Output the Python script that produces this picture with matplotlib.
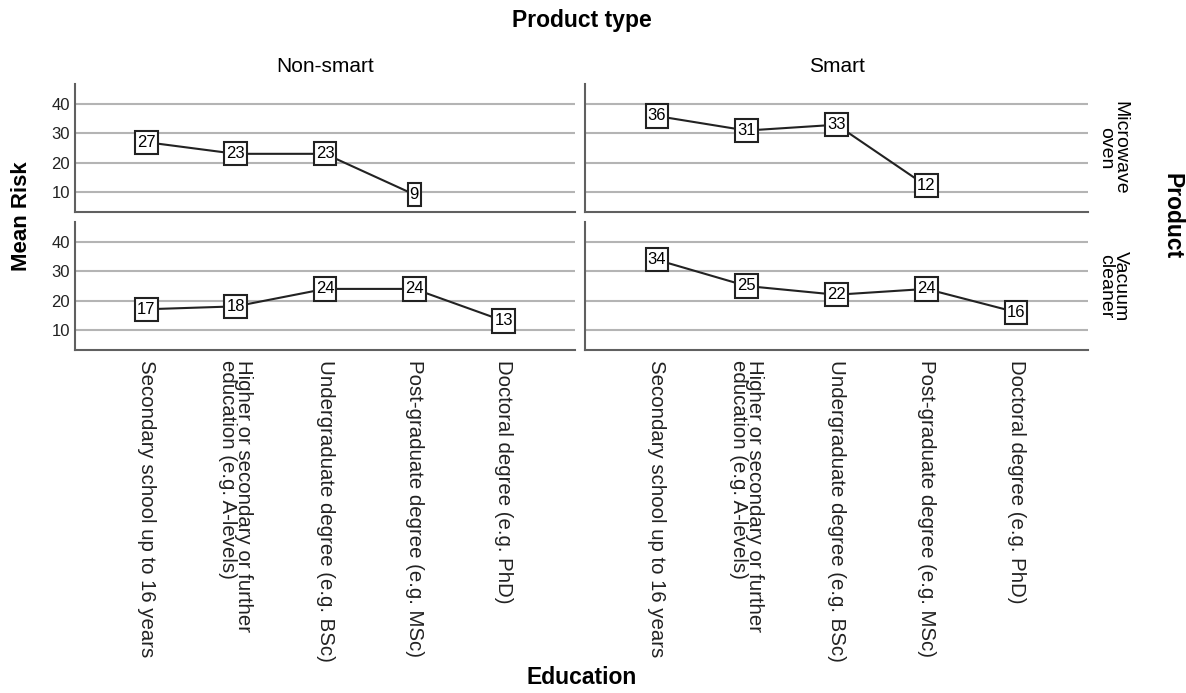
import numpy as np
import matplotlib.pyplot as plt
from matplotlib.path import Path

plt.rcParams['font.family'] = ['Liberation Sans', 'DejaVu Sans']

education = ['Secondary school up to 16 years',
             'Higher or secondary or further\neducation (e.g. A-levels)',
             'Undergraduate degree (e.g. BSc)',
             'Post-graduate degree (e.g. MSc)',
             'Doctoral degree (e.g. PhD)']
product_types = ['Non-smart', 'Smart']
products = ['Microwave\noven', 'Vacuum\ncleaner']

microwave_nonsmart = [27, 23, 23, 9, np.nan]
microwave_smart = [36, 31, 33, 12, np.nan]
vacuum_nonsmart = [17, 18, 24, 24, 13]
vacuum_smart = [34, 25, 22, 24, 16]

values = [[microwave_nonsmart, microwave_smart],
          [vacuum_nonsmart, vacuum_smart]]


def tall_box(x0, y0, width, height, mutation_size):
    # label box: little side padding, more top/bottom
    px = 0.12 * mutation_size
    py = 0.25 * mutation_size
    x0, x1 = x0 - px, x0 + width + px
    y0, y1 = y0 - py, y0 + height + py
    return Path([(x0, y0), (x1, y0), (x1, y1), (x0, y1), (x0, y0)],
                closed=True)


W, H = 1186, 693
fig = plt.figure(figsize=(W / 100, H / 100), dpi=100)

col_px = [(75, 500), (585, 503)]
row_px = [(84, 128), (222, 128)]

grid_c = '#b4b4b4'
spine_c = '#606060'

for r in range(2):
    for c in range(2):
        x0, w = col_px[c]
        y0, h = row_px[r]
        ax = fig.add_axes([x0 / W, 1 - (y0 + h) / H, w / W, h / H])
        vals = np.array(values[r][c], dtype=float)
        xs = np.arange(len(education))
        ax.plot(xs, vals, color='#222222', lw=1.5, zorder=2)
        for xi, v in zip(xs, vals):
            if np.isnan(v):
                continue
            ax.text(xi, v, '%d' % v, ha='center', va='center', fontsize=12,
                    zorder=3,
                    bbox=dict(boxstyle=tall_box, fc='white',
                              ec='#222222', lw=1.5))
        ax.set_xlim(-0.8, 4.8)
        ax.set_ylim(3, 47)
        ax.set_yticks([10, 20, 30, 40])
        for yv in [10, 20, 30, 40]:
            ax.axhline(yv, color=grid_c, lw=1.5, zorder=1)
        for s in ['top', 'right']:
            ax.spines[s].set_visible(False)
        for s in ['left', 'bottom']:
            ax.spines[s].set_color(spine_c)
            ax.spines[s].set_linewidth(1.5)
        ax.tick_params(length=0, labelsize=12, colors='#222222')
        if c == 1:
            ax.set_yticklabels([])
        ax.set_xticks(xs)
        if r == 1:
            ax.set_xticklabels(education, rotation=270, ha='center', va='top',
                               fontsize=14.7, linespacing=0.8,
                               multialignment='left')
            ax.tick_params(axis='x', pad=7)
        else:
            ax.set_xticklabels([])
        if r == 0:
            ax.set_title(product_types[c], fontsize=15, pad=9)
        if c == 1:
            ax.text(1.05, 0.5, products[r], transform=ax.transAxes,
                    rotation=270, ha='center', va='center', fontsize=14,
                    linespacing=0.8)

fig.text(582 / W, 1 - 20 / H, 'Product type', ha='center', va='center',
         fontsize=16.5, fontweight='bold')
fig.text(1172 / W, 1 - 216 / H, 'Product', ha='center', va='center',
         rotation=270, fontsize=16.5, fontweight='bold')
fig.text(22 / W, 1 - 216 / H, 'Mean Risk', ha='center', va='center',
         rotation=90, fontsize=16, fontweight='bold')
fig.text(582 / W, 1 - 678 / H, 'Education', ha='center', va='center',
         fontsize=16.5, fontweight='bold')

fig.savefig('out.png', dpi=100)
